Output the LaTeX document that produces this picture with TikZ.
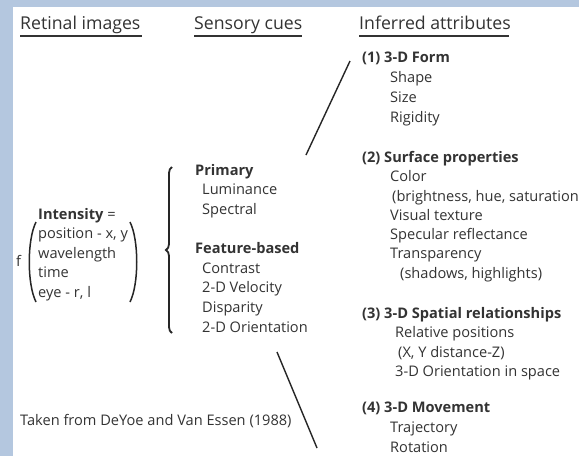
\documentclass[tikz,border=0pt]{standalone}
\usepackage{fontspec}
\setmainfont{Open Sans}
\usetikzlibrary{decorations.pathreplacing}
\definecolor{bgblue}{HTML}{B4C7DF}
\definecolor{txt}{HTML}{333333}
\begin{document}
\begin{tikzpicture}[x=1pt,y=-1pt,
  every node/.style={inner sep=0pt,text=txt,anchor=base west,font=\fontsize{14.6}{17}\selectfont},
  hdr/.style={font=\fontsize{17.7}{20}\selectfont},
  uline/.style={draw=txt,line width=2pt},
  slash/.style={draw=black!85,line width=1.4pt},
  paren/.style={draw=black!85,line width=1.5pt}]
\useasboundingbox (0,0) rectangle (579,456);
\fill[bgblue] (0,0) rectangle (579,456);
\fill[white] (13,7) rectangle (579,456);
% headers
\node[hdr] (h1) at (20,29) {Retinal images};
\node[hdr] (h2) at (194,29) {Sensory cues};
\node[hdr] (h3) at (359,29) {Inferred attributes};
\coordinate (u1a) at (20,36); \coordinate (u1b) at (142,36);
\coordinate (u2a) at (194,36); \coordinate (u2b) at (302,36);
\coordinate (u3a) at (359,36); \coordinate (u3b) at (509,36);
\draw[uline] (u1a) -- (u1b);
\draw[uline] (u2a) -- (u2b);
\draw[uline] (u3a) -- (u3b);
% left column
\node (int) at (38,219) {\textbf{Intensity} =};
\node (p1) at (38,238) {position - x, y};
\node (p2) at (38,258) {wavelength};
\node (p3) at (38,277) {time};
\node (p4) at (38,297) {eye - r, l};
\node (f) at (16,266) {f};
\coordinate (lp1) at (36,222); \coordinate (lp2) at (36,302);
\coordinate (rp1) at (130,222); \coordinate (rp2) at (130,302);
\draw[paren] (lp1) .. controls (27,240) and (27,284) .. (lp2);
\draw[paren] (rp1) .. controls (139,240) and (139,284) .. (rp2);
\node (src) at (20,425) {Taken from DeYoe and Van Essen (1988)};
% brace
\coordinate (bb) at (172,333); \coordinate (bt) at (172,167);
\draw[draw=black!85,line width=1.8pt,decorate,decoration={brace,amplitude=6pt}] (bb) -- (bt);
% middle column
\node (m1) at (195,175) {\textbf{Primary}};
\node (m2) at (202,194) {Luminance};
\node (m3) at (202,214) {Spectral};
\node (m4) at (195,253) {\textbf{Feature-based}};
\node (m5) at (202,273) {Contrast};
\node (m6) at (202,292) {2-D Velocity};
\node (m7) at (202,312) {Disparity};
\node (m8) at (202,332) {2-D Orientation};
% slashes
\coordinate (s1a) at (350,61); \coordinate (s1b) at (306,155);
\coordinate (s2a) at (277,352); \coordinate (s2b) at (317,448);
\draw[slash] (s1a) -- (s1b);
\draw[slash] (s2a) -- (s2b);
% right column
\node (r1) at (362,62) {\textbf{(1) 3-D Form}};
\node (r1a) at (390,82) {Shape};
\node (r1b) at (390,102) {Size};
\node (r1c) at (390,122) {Rigidity};
\node (r2) at (362,162) {\textbf{(2) Surface properties}};
\node (r2a) at (390,181) {Color};
\node (r2b) at (392,201) {(brightness, hue, saturation};
\node (r2c) at (390,220) {Visual texture};
\node (r2d) at (390,239) {Specular reflectance};
\node (r2e) at (390,258) {Transparency};
\node (r2f) at (400,278) {(shadows, highlights)};
\node (r3) at (362,318) {\textbf{(3) 3-D Spatial relationships}};
\node (r3a) at (395,337) {Relative positions};
\node (r3b) at (398,357) {(X, Y distance-Z)};
\node (r3c) at (395,376) {3-D Orientation in space};
\node (r4) at (362,412) {\textbf{(4) 3-D Movement}};
\node (r4a) at (390,432) {Trajectory};
\node (r4b) at (390,452) {Rotation};
\end{tikzpicture}
\end{document}
